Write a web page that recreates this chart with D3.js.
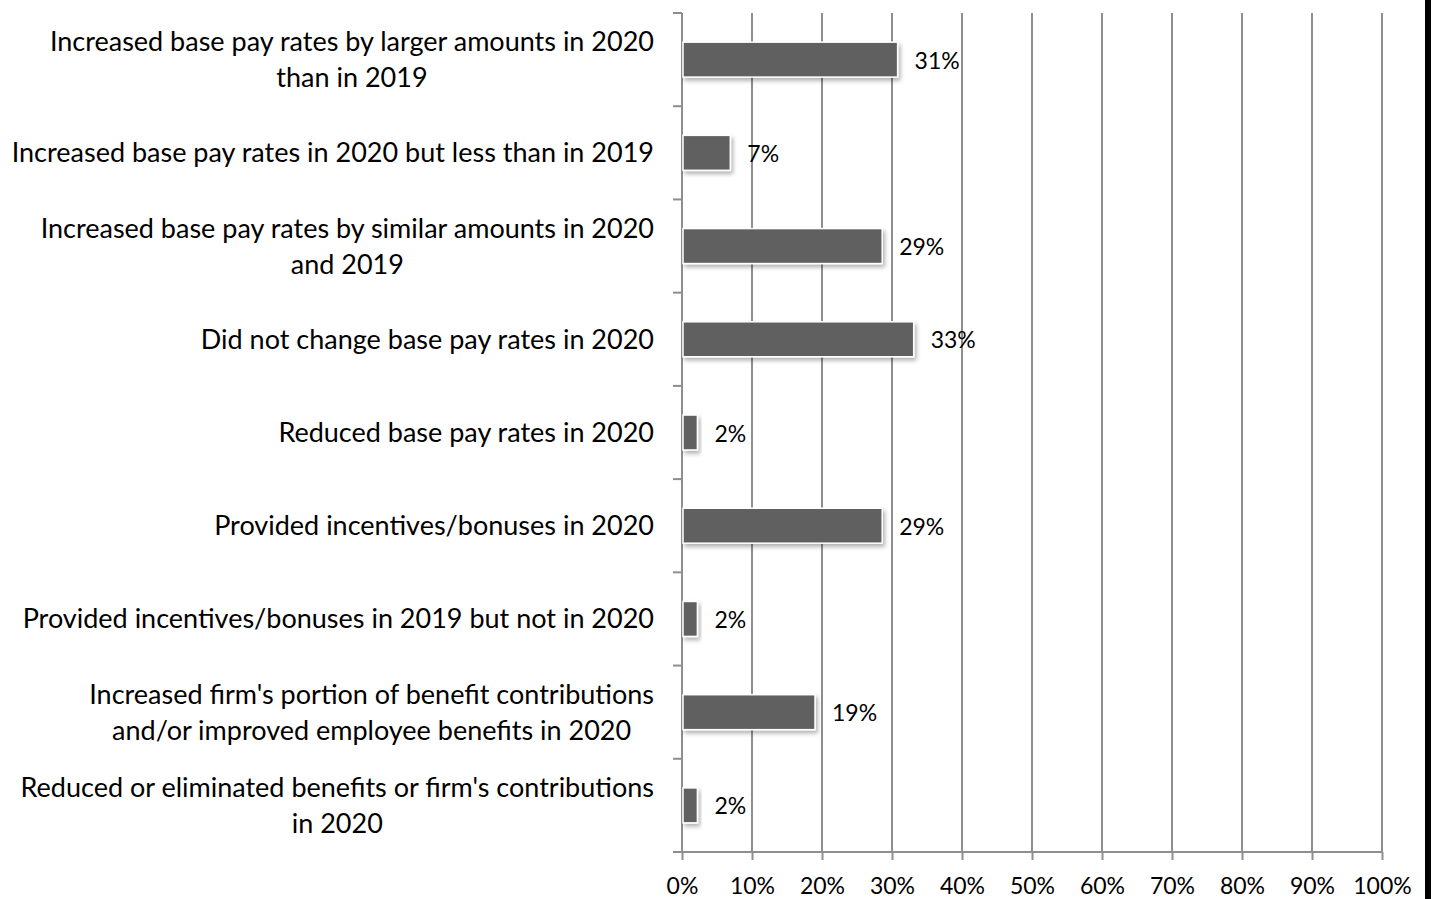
<!DOCTYPE html>
<html>
<head>
<meta charset="utf-8">
<script src="https://cdn.jsdelivr.net/npm/d3@7"></script>
<style>
  html, body { margin: 0; padding: 0; background: #fff; }
  svg { display: block; }
  text { font-family: Lato, "Open Sans", sans-serif; fill: #000; }
</style>
</head>
<body>
<svg id="chart" width="1431" height="899"></svg>
<script>
const categories = [
  ["Increased base pay rates by larger amounts in 2020", "than in 2019"],
  ["Increased base pay rates in 2020 but less than in 2019"],
  ["Increased base pay rates by similar amounts in 2020", "and 2019"],
  ["Did not change base pay rates in 2020"],
  ["Reduced base pay rates in 2020"],
  ["Provided incentives/bonuses in 2020"],
  ["Provided incentives/bonuses in 2019 but not in 2020"],
  ["Increased firm's portion of benefit contributions", "and/or improved employee benefits in 2020"],
  ["Reduced or eliminated benefits or firm's contributions", "in 2020"]
];
const values = [30.8, 6.9, 28.6, 33.1, 2.2, 28.6, 2.2, 19.0, 2.2];
const valueLabels = ["31%", "7%", "29%", "33%", "2%", "29%", "2%", "19%", "2%"];
const xTicks = [0, 10, 20, 30, 40, 50, 60, 70, 80, 90, 100];
const xTickLabels = ["0%", "10%", "20%", "30%", "40%", "50%", "60%", "70%", "80%", "90%", "100%"];

(function () {
const svg = d3.select("#chart");
const pLeft = 682, pRight = 1382, pTop = 13, pBottom = 852;
const labelFont = 27;
const numFont = 23;
const gridColor = "#8e8e8e";

const x = d3.scaleLinear().domain([0, 100]).range([pLeft, pRight]);
const y = d3.scaleBand().domain(d3.range(categories.length)).range([pTop, pBottom]).paddingInner(0.625).paddingOuter(0.3125);

const defs = svg.append("defs");
const f = defs.append("filter").attr("id", "shadow").attr("x", "-20%").attr("y", "-30%").attr("width", "150%").attr("height", "180%");
f.append("feDropShadow").attr("dx", 2).attr("dy", 3).attr("stdDeviation", 2).attr("flood-color", "#000").attr("flood-opacity", 0.3);

// black strip at right edge
svg.append("rect").attr("x", 1425).attr("y", 0).attr("width", 6).attr("height", 899).attr("fill", "#000");

// vertical gridlines
svg.append("g").selectAll("line").data(xTicks.slice(1)).join("line")
  .attr("x1", d => x(d)).attr("x2", d => x(d))
  .attr("y1", pTop).attr("y2", pBottom)
  .attr("stroke", gridColor).attr("stroke-width", 2);

// bottom axis
const xAxis = d3.axisBottom(x).tickValues(xTicks).tickSize(8).tickPadding(17)
  .tickFormat((d, i) => xTickLabels[i]);
const gx = svg.append("g").attr("transform", `translate(0,${pBottom})`).call(xAxis);
gx.select(".domain").remove();
gx.selectAll(".tick line").attr("stroke", gridColor).attr("stroke-width", 2);
gx.selectAll(".tick text").attr("font-size", numFont).attr("font-family", "Lato, sans-serif").attr("fill", "#000").attr("dy", "0.75em");
svg.append("line").attr("x1", pLeft - 9).attr("x2", pRight).attr("y1", pBottom).attr("y2", pBottom)
  .attr("stroke", gridColor).attr("stroke-width", 2);

// left axis with ticks at category boundaries
const step = (pBottom - pTop) / categories.length;
const yBounds = d3.range(categories.length + 1).map(i => pTop + i * step);
svg.append("line").attr("x1", pLeft).attr("x2", pLeft).attr("y1", pTop).attr("y2", pBottom)
  .attr("stroke", gridColor).attr("stroke-width", 2);
svg.append("g").selectAll("line").data(yBounds).join("line")
  .attr("x1", pLeft - 9).attr("x2", pLeft).attr("y1", d => d).attr("y2", d => d)
  .attr("stroke", gridColor).attr("stroke-width", 2);

// bars
svg.append("g").selectAll("rect").data(values).join("rect")
  .attr("x", x(0) + 1)
  .attr("y", (d, i) => y(i))
  .attr("width", d => x(d) - x(0) - 1)
  .attr("height", y.bandwidth())
  .attr("fill", "#606060")
  .attr("stroke", "#ffffff")
  .attr("stroke-width", 1.5)
  .attr("filter", "url(#shadow)");

// value labels
svg.append("g").selectAll("text").data(values).join("text")
  .attr("x", d => x(d) + 17)
  .attr("y", (d, i) => y(i) + y.bandwidth() / 2 + 1)
  .attr("dy", "0.35em")
  .attr("font-size", numFont)
  .text((d, i) => valueLabels[i]);

// category labels (centered lines, block right-aligned)
const labelRight = 654;
const lineH = 36;
categories.forEach((lines, i) => {
  const g = svg.append("g");
  const cy = y(i) + y.bandwidth() / 2;
  const texts = lines.map((ln, j) => g.append("text")
    .attr("font-size", labelFont)
    .attr("text-anchor", "middle")
    .attr("y", cy + (j - (lines.length - 1) / 2) * lineH)
    .attr("dy", "0.35em")
    .text(ln));
  const maxW = d3.max(texts, t => t.node().getComputedTextLength());
  texts.forEach(t => t.attr("x", labelRight - maxW / 2));
});
})();
</script>
</body>
</html>
